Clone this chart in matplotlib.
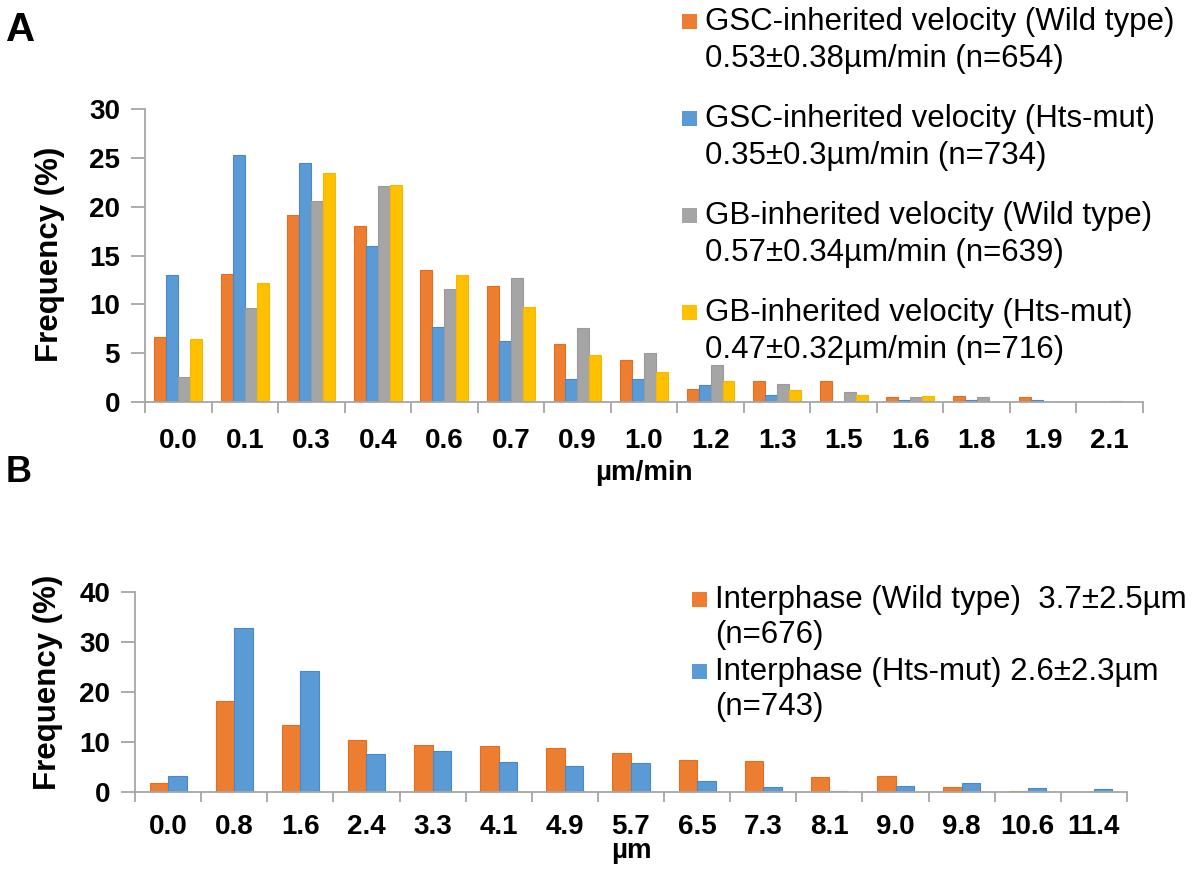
import numpy as np
import matplotlib as mpl
mpl.use('Agg')
import matplotlib.pyplot as plt
from matplotlib.patches import Rectangle

plt.rcParams['font.family'] = ['Liberation Sans', 'DejaVu Sans']

# ---- panel A data ----
a_cats = ["0.0", "0.1", "0.3", "0.4", "0.6", "0.7", "0.9", "1.0",
          "1.2", "1.3", "1.5", "1.6", "1.8", "1.9", "2.1"]
gsc_wt = [6.7, 13.1, 19.1, 18.0, 13.5, 11.9, 5.9, 4.3, 1.3, 2.2, 2.2, 0.5, 0.6, 0.5, 0.0]
gsc_hts = [13.0, 25.3, 24.5, 16.0, 7.7, 6.2, 2.4, 2.4, 1.7, 0.75, 0.0, 0.2, 0.25, 0.2, 0.0]
gb_wt = [2.6, 9.6, 20.6, 22.1, 11.6, 12.7, 7.6, 5.0, 3.8, 1.8, 1.05, 0.5, 0.5, 0.0, 0.1]
gb_hts = [6.5, 12.2, 23.4, 22.2, 13.0, 9.7, 4.8, 3.1, 2.2, 1.2, 0.7, 0.65, 0.0, 0.0, 0.0]
a_labels = [("GSC-inherited velocity (Wild type)", "0.53\u00b10.38\u00b5m/min (n=654)"),
            ("GSC-inherited velocity (Hts-mut)", "0.35\u00b10.3\u00b5m/min (n=734)"),
            ("GB-inherited velocity (Wild type)", "0.57\u00b10.34\u00b5m/min (n=639)"),
            ("GB-inherited velocity (Hts-mut)", "0.47\u00b10.32\u00b5m/min (n=716)")]

# ---- panel B data ----
b_cats = ["0.0", "0.8", "1.6", "2.4", "3.3", "4.1", "4.9", "5.7",
          "6.5", "7.3", "8.1", "9.0", "9.8", "10.6", "11.4"]
inter_wt = [1.9, 18.3, 13.5, 10.4, 9.5, 9.3, 8.9, 7.9, 6.4, 6.2, 3.1, 3.3, 1.1, 0.3, 0.0]
inter_hts = [3.3, 32.9, 24.3, 7.7, 8.3, 6.1, 5.3, 5.8, 2.3, 1.1, 0.3, 1.2, 1.9, 0.9, 0.7]
b_labels = [("Interphase (Wild type)  3.7\u00b12.5\u00b5m", "(n=676)"),
            ("Interphase (Hts-mut) 2.6\u00b12.3\u00b5m", "(n=743)")]

ORANGE, BLUE, GRAY, YELLOW = "#ED7D31", "#5B9BD5", "#A5A5A5", "#FFC000"
EDGES = {ORANGE: "#E0701F", BLUE: "#4A88C7", GRAY: "#9A9A9A", YELLOW: "#F5B800"}
AXCOL = "#A6A6A6"
W, H = 1200, 869

def fx(px):
  return px / W

def fy(py):
  return 1 - py / H

def style_axis(ax, cats, ymax, ystep, ticklen, pad):
  n = len(cats)
  ax.set_xlim(0, n)
  ax.set_ylim(0, ymax)
  for s in ["top", "right"]:
    ax.spines[s].set_visible(False)
  for s in ["left", "bottom"]:
    ax.spines[s].set_color(AXCOL)
    ax.spines[s].set_linewidth(1.3)
  ax.set_xticks(np.arange(n + 1))
  ax.set_xticklabels([])
  ax.set_xticks(np.arange(n) + 0.5, minor=True)
  ax.set_xticklabels(cats, minor=True, fontsize=20, fontweight="bold")
  ax.tick_params(axis="x", which="major", length=ticklen, width=1.3, color=AXCOL, direction="out")
  ax.tick_params(axis="x", which="minor", length=0, pad=pad)
  ax.set_yticks(np.arange(0, ymax + 0.1, ystep))
  ax.tick_params(axis="y", length=10, width=1.3, color=AXCOL, pad=8, labelsize=20)
  for t in ax.get_yticklabels():
    t.set_fontweight("bold")

def draw_legend(fig, entries, colors, sq_x, txt_x, y0, line_gap, entry_gap, size):
  for k, ((l1, l2), c) in enumerate(zip(entries, colors)):
    y = y0 + k * entry_gap
    fig.add_artist(Rectangle((fx(sq_x), fy(y + 7)), fx(15), 15 / H,
                             transform=fig.transFigure, color=c, lw=0))
    fig.text(fx(txt_x), fy(y), l1, fontsize=size, va="center", ha="left")
    fig.text(fx(txt_x), fy(y + line_gap), l2, fontsize=size, va="center", ha="left")

fig = plt.figure(figsize=(W / 100, H / 100), dpi=100)

# ---- panel A ----
axA = fig.add_axes([fx(145), fy(402), fx(1143 - 145), (402 - 109) / H])
xa = np.arange(len(a_cats)) + 0.5
bw = 0.18
for k, (vals, c) in enumerate(zip([gsc_wt, gsc_hts, gb_wt, gb_hts], [ORANGE, BLUE, GRAY, YELLOW])):
  axA.bar(xa + (k - 1.5) * bw, vals, width=bw, color=c, edgecolor=EDGES[c], linewidth=0.8)
style_axis(axA, a_cats, 30, 5, 8, 19)
draw_legend(fig, a_labels, [ORANGE, BLUE, GRAY, YELLOW], 682, 705, 22, 37, 97, 22.5)

# ---- panel B ----
axB = fig.add_axes([fx(135), fy(792), fx(1127 - 135), (792 - 592) / H])
xb = np.arange(len(b_cats)) + 0.5
bw = 0.28
for k, (vals, c) in enumerate(zip([inter_wt, inter_hts], [ORANGE, BLUE])):
  axB.bar(xb + (k - 0.5) * bw, vals, width=bw, color=c, edgecolor=EDGES[c], linewidth=0.8)
style_axis(axB, b_cats, 40, 10, 7, 16)
draw_legend(fig, b_labels, [ORANGE, BLUE], 692, 715, 600, 35, 72, 22.5)

# axis titles and panel letters
fig.text(fx(50), fy(254), "Frequency (%)", rotation=90, fontsize=22.5, fontweight="bold", ha="center", va="center")
fig.text(fx(48), fy(682), "Frequency (%)", rotation=90, fontsize=22.5, fontweight="bold", ha="center", va="center")
fig.text(fx(644), fy(473), "\u00b5m/min", fontsize=20, fontweight="bold", ha="center", va="center")
fig.text(fx(631), fy(851), "\u00b5m", fontsize=20, fontweight="bold", ha="center", va="center")
fig.text(fx(6), fy(30), "A", fontsize=29, fontweight="bold", ha="left", va="center")
fig.text(fx(6), fy(473), "B", fontsize=26, fontweight="bold", ha="left", va="center")

fig.savefig("out.png", dpi=100)
